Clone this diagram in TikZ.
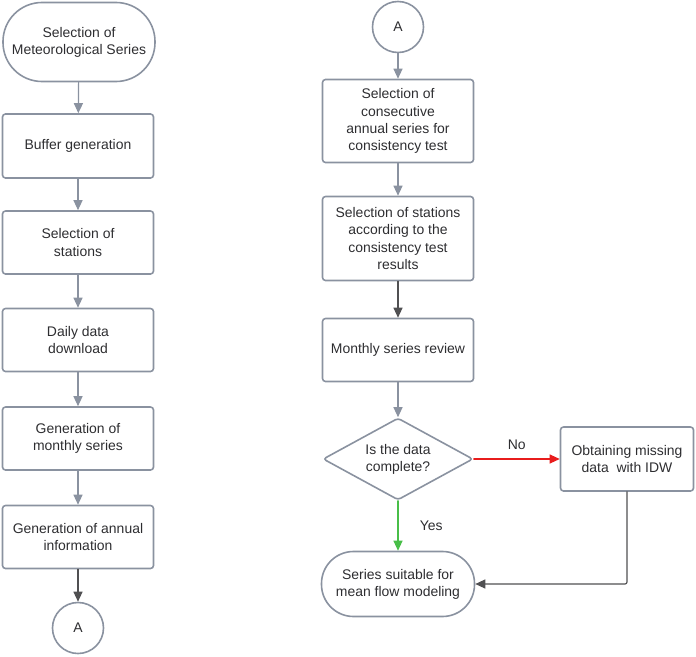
\documentclass[tikz,border=0pt]{standalone}
\usepackage{fontspec}
\setmainfont{Liberation Sans}
\usetikzlibrary{shapes.geometric,arrows.meta}
\definecolor{linegray}{RGB}{138,146,160}
\definecolor{darkline}{RGB}{80,80,82}
\definecolor{textgray}{RGB}{45,45,48}
\definecolor{noline}{RGB}{232,28,28}
\definecolor{yesline}{RGB}{72,190,72}
\tikzset{
  box/.style={draw=linegray, line width=1.6bp, rectangle, rounded corners=3bp,
    minimum width=151bp, minimum height=63bp, align=center, inner sep=0pt,
    text=textgray, font=\fontsize{14}{17.2}\selectfont},
  terminal/.style={box, rounded corners=32bp},
  connector/.style={box, circle, minimum size=51bp},
  decision/.style={box, diamond, minimum width=150bp, minimum height=82bp, aspect=1.83},
  flow/.style={draw=linegray, line width=1.2bp, -{Triangle[length=10bp,width=9bp]}},
  darkflow/.style={flow, draw=darkline},
}
\begin{document}
\begin{tikzpicture}[x=1bp, y=-1bp, line cap=round, line join=round]
  \useasboundingbox (0,0) rectangle (696,657);
  % Left column
  \node[terminal, rounded corners=39bp, minimum width=152bp, minimum height=79bp] (series) at (79,42) {Selection of\\Meteorological Series};
  \node[box, minimum height=64bp] (buffer) at (78,146) {Buffer generation};
  \node[box] (stations) at (78,242.5) {Selection of\\stations};
  \node[box] (daily) at (78,340) {Daily data\\download};
  \node[box] (monthly) at (78,438.5) {Generation of\\monthly series};
  \node[box] (annual) at (78,537) {Generation of annual\\information};
  \node[connector] (conA) at (78,628) {A};
  % Right column
  \node[connector] (conB) at (398,27) {A};
  \node[box, minimum height=83bp] (consec) at (398,121) {Selection of\\consecutive\\annual series for\\consistency test};
  \node[box, minimum height=84bp] (consist) at (398,238.5) {Selection of stations\\according to the\\consistency test\\results};
  \node[box] (review) at (398,350) {Monthly series review};
  \node[decision] (complete) at (398,459) {Is the data\\complete?};
  \node[box, minimum width=133bp, minimum height=64bp] (missing) at (627,459) {Obtaining missing\\data\ \ with IDW};
  \node[terminal, minimum width=153bp, minimum height=65bp] (suitable) at (398,584) {Series suitable for\\mean flow modeling};
  % Connectors
  \draw[flow] (series) -- (buffer);
  \draw[flow] (buffer) -- (stations);
  \draw[flow] (stations) -- (daily);
  \draw[flow] (daily) -- (monthly);
  \draw[flow] (monthly) -- (annual);
  \draw[darkflow] (annual) -- (conA);
  \draw[flow] (conB) -- (consec);
  \draw[flow] (consec) -- (consist);
  \draw[darkflow] (consist) -- (review);
  \draw[flow] (review) -- (complete);
  \draw[flow, draw=noline, -{Triangle[length=10bp,width=9bp,fill=noline]}] (complete) -- node[above=5bp, text=textgray, font=\fontsize{14}{16}\selectfont] {No} (missing);
  \draw[flow, draw=yesline] (complete) -- node[right=18bp, text=textgray, font=\fontsize{14}{16}\selectfont] {Yes} (suitable);
  \draw[darkflow, rounded corners=2bp] (missing.south) |- (suitable.east);
\end{tikzpicture}
\end{document}
